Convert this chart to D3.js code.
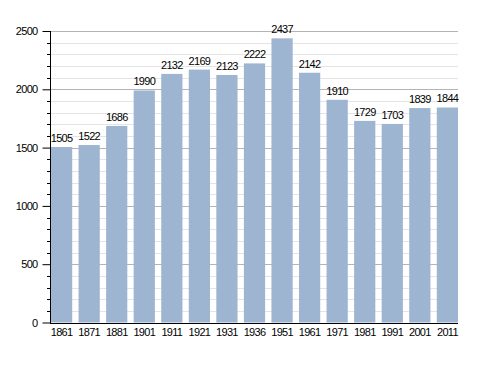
<!DOCTYPE html>
<html>
<head>
<meta charset="utf-8">
<script src="https://cdn.jsdelivr.net/npm/d3@7"></script>
<style>
body { margin: 0; background: #fff; }
text { font-family: "Liberation Sans", Arial, sans-serif; font-size: 11px; fill: #000; letter-spacing: -0.7px; }
</style>
</head>
<body>
<div id="chart"></div>
<script>
var years = ["1861", "1871", "1881", "1901", "1911", "1921", "1931", "1936", "1951", "1961", "1971", "1981", "1991", "2001", "2011"];
var population = [1505, 1522, 1686, 1990, 2132, 2169, 2123, 2222, 2437, 2142, 1910, 1729, 1703, 1839, 1844];
var majorTicks = [0, 500, 1000, 1500, 2000, 2500];

var w = 488, h = 373;
var mLeft = 50, mRight = 458, mTop = 31, mBottom = 322.5;

var svg = d3.select("#chart")
    .append("svg")
    .attr("width", w)
    .attr("height", h);

var x = d3.scaleBand()
    .domain(years)
    .range([mLeft + 1, mRight])
    .paddingInner(0.23)
    .paddingOuter(0);

var y = d3.scaleLinear()
    .domain([0, 2500])
    .range([mBottom, mTop]);

var minorTicks = d3.range(0, 2501, 100).filter(function (d) { return d % 500 != 0; });

function py(d) { return Math.round(y(d)) + 0.5; }

// minor grid
svg.append("g")
    .selectAll("line")
    .data(minorTicks)
    .enter()
    .append("line")
    .attr("x1", mLeft)
    .attr("x2", mRight)
    .attr("y1", py)
    .attr("y2", py)
    .style("stroke", "#e4e4e4");

// major grid
svg.append("g")
    .selectAll("line")
    .data(majorTicks.slice(1))
    .enter()
    .append("line")
    .attr("x1", mLeft)
    .attr("x2", mRight)
    .attr("y1", py)
    .attr("y2", py)
    .style("stroke", "#b4b4b4");

// bars
svg.append("g")
    .selectAll("rect")
    .data(population)
    .enter()
    .append("rect")
    .attr("x", function (d, i) { return x(years[i]); })
    .attr("width", x.bandwidth())
    .attr("y", function (d) { return y(d); })
    .attr("height", function (d) { return y(0) - y(d); })
    .style("fill", "#9db5d1");

// value labels
svg.append("g")
    .selectAll("text")
    .data(population)
    .enter()
    .append("text")
    .attr("x", function (d, i) { return x(years[i]) + x.bandwidth() / 2; })
    .attr("y", function (d) { return y(d) - 5; })
    .attr("text-anchor", "middle")
    .text(function (d) { return d; });

// y axis
var yAxis = svg.append("g")
    .attr("transform", "translate(" + (mLeft + 0.5) + ",0)")
    .call(d3.axisLeft(y).tickValues(majorTicks).tickSize(8).tickPadding(5).tickFormat(d3.format("d")));
yAxis.select(".domain").remove();
yAxis.selectAll("line").style("stroke", "#000");
yAxis.selectAll("text").attr("font-size", null).attr("font-family", null);

svg.append("g")
    .selectAll("line")
    .data(minorTicks)
    .enter()
    .append("line")
    .attr("x1", mLeft - 3)
    .attr("x2", mLeft)
    .attr("y1", py)
    .attr("y2", py)
    .style("stroke", "#000");

svg.append("line")
    .attr("x1", mLeft + 0.5).attr("x2", mLeft + 0.5)
    .attr("y1", y(2500)).attr("y2", mBottom + 0.5)
    .style("stroke", "#000");

// x axis
var xAxis = svg.append("g")
    .attr("transform", "translate(0," + (Math.round(mBottom) + 0.5) + ")")
    .call(d3.axisBottom(x).tickSize(0).tickPadding(5));
xAxis.select(".domain").attr("d", "M" + mLeft + ",0H" + mRight).style("stroke", "#000");
xAxis.selectAll("text").attr("font-size", null).attr("font-family", null);
xAxis.attr("font-size", null).attr("font-family", null);
yAxis.attr("font-size", null).attr("font-family", null);
</script>
</body>
</html>
